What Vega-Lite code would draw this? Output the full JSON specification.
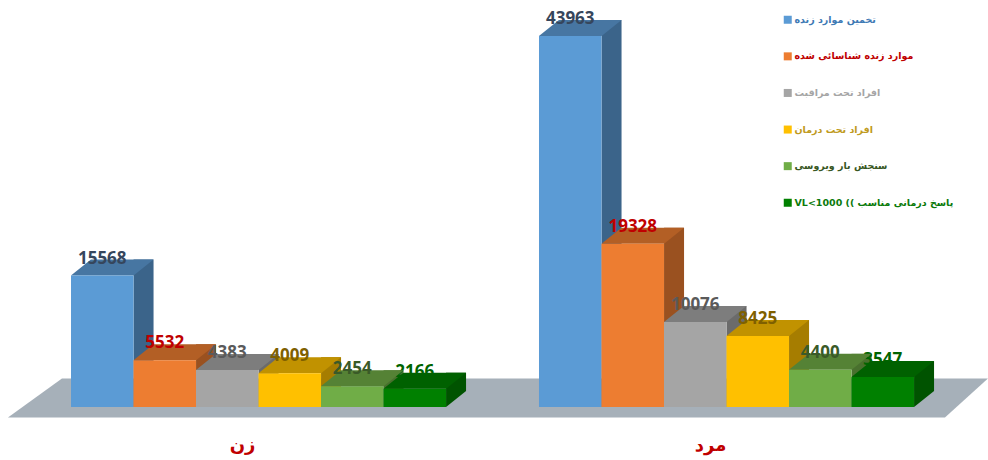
{
"$schema":"https://vega.github.io/schema/vega-lite/v6.json",
"width":988,"height":407,
"autosize":{"type":"none"},
"padding":{"left":0,"top":0,"right":0,"bottom":53},
"background":"white",
"config":{"view":{"stroke":null}},
"datasets":{"bars":[
{"group":"زن","series":"تخمین موارد زنده","value":15568},
{"group":"زن","series":"موارد زنده شناسائی شده","value":5532},
{"group":"زن","series":"افراد تحت مراقبت","value":4383},
{"group":"زن","series":"افراد تحت درمان","value":4009},
{"group":"زن","series":"سنجش بار ویروسی","value":2454},
{"group":"زن","series":"VL<1000 (( پاسخ درمانی مناسب","value":2166},
{"group":"مرد","series":"تخمین موارد زنده","value":43963},
{"group":"مرد","series":"موارد زنده شناسائی شده","value":19328},
{"group":"مرد","series":"افراد تحت مراقبت","value":10076},
{"group":"مرد","series":"افراد تحت درمان","value":8425},
{"group":"مرد","series":"سنجش بار ویروسی","value":4400},
{"group":"مرد","series":"VL<1000 (( پاسخ درمانی مناسب","value":3547}
]},
"data":{"name":"bars"},
"encoding":{
"x":{"field":"group","type":"nominal","sort":["زن","مرد"],"title":null,
"scale":{"range":[71,914],"paddingInner":0.1987,"paddingOuter":0},
"axis":{"domain":false,"ticks":false,"grid":false,"labelAngle":0,"labelOffset":-16,"labelPadding":29,"labelFont":"DejaVu Sans","labelFontSize":18,"labelFontWeight":"bold","labelColor":"#c00000"}},
"xOffset":{"field":"series","type":"nominal","sort":null,"scale":{"type":"band","paddingInner":0,"paddingOuter":0,"range":[0,375],"domain":["تخمین موارد زنده","موارد زنده شناسائی شده","افراد تحت مراقبت","افراد تحت درمان","سنجش بار ویروسی","VL<1000 (( پاسخ درمانی مناسب"]}},
"y":{"field":"value","type":"quantitative","title":null,"scale":{"domain":[0,48223],"nice":false},"axis":null}
},
"layer":[
{"transform":[{"filter":"datum.value==15568"}],
 "mark":{"type":"point","filled":true,"opacity":1,"strokeWidth":0,"size":4,"color":"#a6b0b9","shape":"M-94.3,142 L842.7,142 L885.7,103 L-40.3,103 Z"}},
{"mark":{"type":"rule","strokeWidth":20,"yOffset":-16,"y2Offset":-16},
 "encoding":{"xOffset":{"field":"series","type":"nominal","sort":null,"scale":{"type":"band","paddingInner":0,"paddingOuter":0,"range":[41.3,416.3],"domain":["تخمین موارد زنده","موارد زنده شناسائی شده","افراد تحت مراقبت","افراد تحت درمان","سنجش بار ویروسی","VL<1000 (( پاسخ درمانی مناسب"]}},"y2":{"datum":0},"color":{"field":"series","type":"nominal","legend":null,"sort":null,"scale":{"range":["#3b648a","#9a5120","#6b6b6b","#a67d00","#49702e","#005300"]}}}},
{"mark":{"type":"point","filled":true,"opacity":1,"strokeWidth":0,"size":4,"shape":"M31.3,0 L51.3,-16 L31.3,-16 Z"},
 "encoding":{"y":{"datum":0},"color":{"field":"series","type":"nominal","legend":null,"sort":null,"scale":{"range":["#3b648a","#9a5120","#6b6b6b","#a67d00","#49702e","#005300"]}}}},
{"transform":[{"filter":"indexof(datum.series,'VL')>=0"}],
 "mark":{"type":"text","font":"Open Sans","fontSize":17,"fontWeight":"bold","baseline":"middle","yOffset":-17,"color":"#006400"},
 "encoding":{"text":{"field":"value","type":"quantitative","format":"d"}}},
{"mark":{"type":"point","filled":true,"opacity":1,"strokeWidth":0,"size":4,"shape":"M-31.3,0 L31.3,0 L51.3,-16 L-11.3,-16 Z"},
 "encoding":{"color":{"field":"series","type":"nominal","legend":null,"sort":null,"scale":{"range":["#4776a2","#b35f25","#7d7d7d","#c19200","#558235","#006100"]}}}},
{"mark":{"type":"bar"},
 "encoding":{"color":{"field":"series","type":"nominal","sort":null,
  "scale":{"range":["#5b9bd5","#ed7d31","#a5a5a5","#ffc000","#70ad47","#008000"]},
  "legend":{"title":null,"orient":"none","legendX":783,"legendY":15,"padding":0,"symbolType":"square","symbolSize":64,"symbolStrokeWidth":0,"rowPadding":25.6,"labelFont":"DejaVu Sans","labelFontSize":9.5,"labelFontWeight":"bold","labelOffset":2,"labelLimit":200,
   "encode":{"labels":{"update":{"fill":{"signal":"['#3f7ab5','#c00000','#a5a5a5','#c09a20','#385723','#0b7a0b'][datum.index]"}}}}}}}},
{"transform":[{"filter":"indexof(datum.series,'VL')<0"}],
 "mark":{"type":"text","font":"Open Sans","fontSize":17,"fontWeight":"bold","baseline":"middle","yOffset":-17},
 "encoding":{"text":{"field":"value","type":"quantitative","format":"d"},
 "color":{"field":"series","type":"nominal","legend":null,"sort":null,"scale":{"domain":["تخمین موارد زنده","موارد زنده شناسائی شده","افراد تحت مراقبت","افراد تحت درمان","سنجش بار ویروسی"],"range":["#36465c","#c00000","#5a5a5a","#7f6000","#3a5a28"]}}}}
],
"resolve":{"scale":{"color":"independent","xOffset":"independent"}}
}
